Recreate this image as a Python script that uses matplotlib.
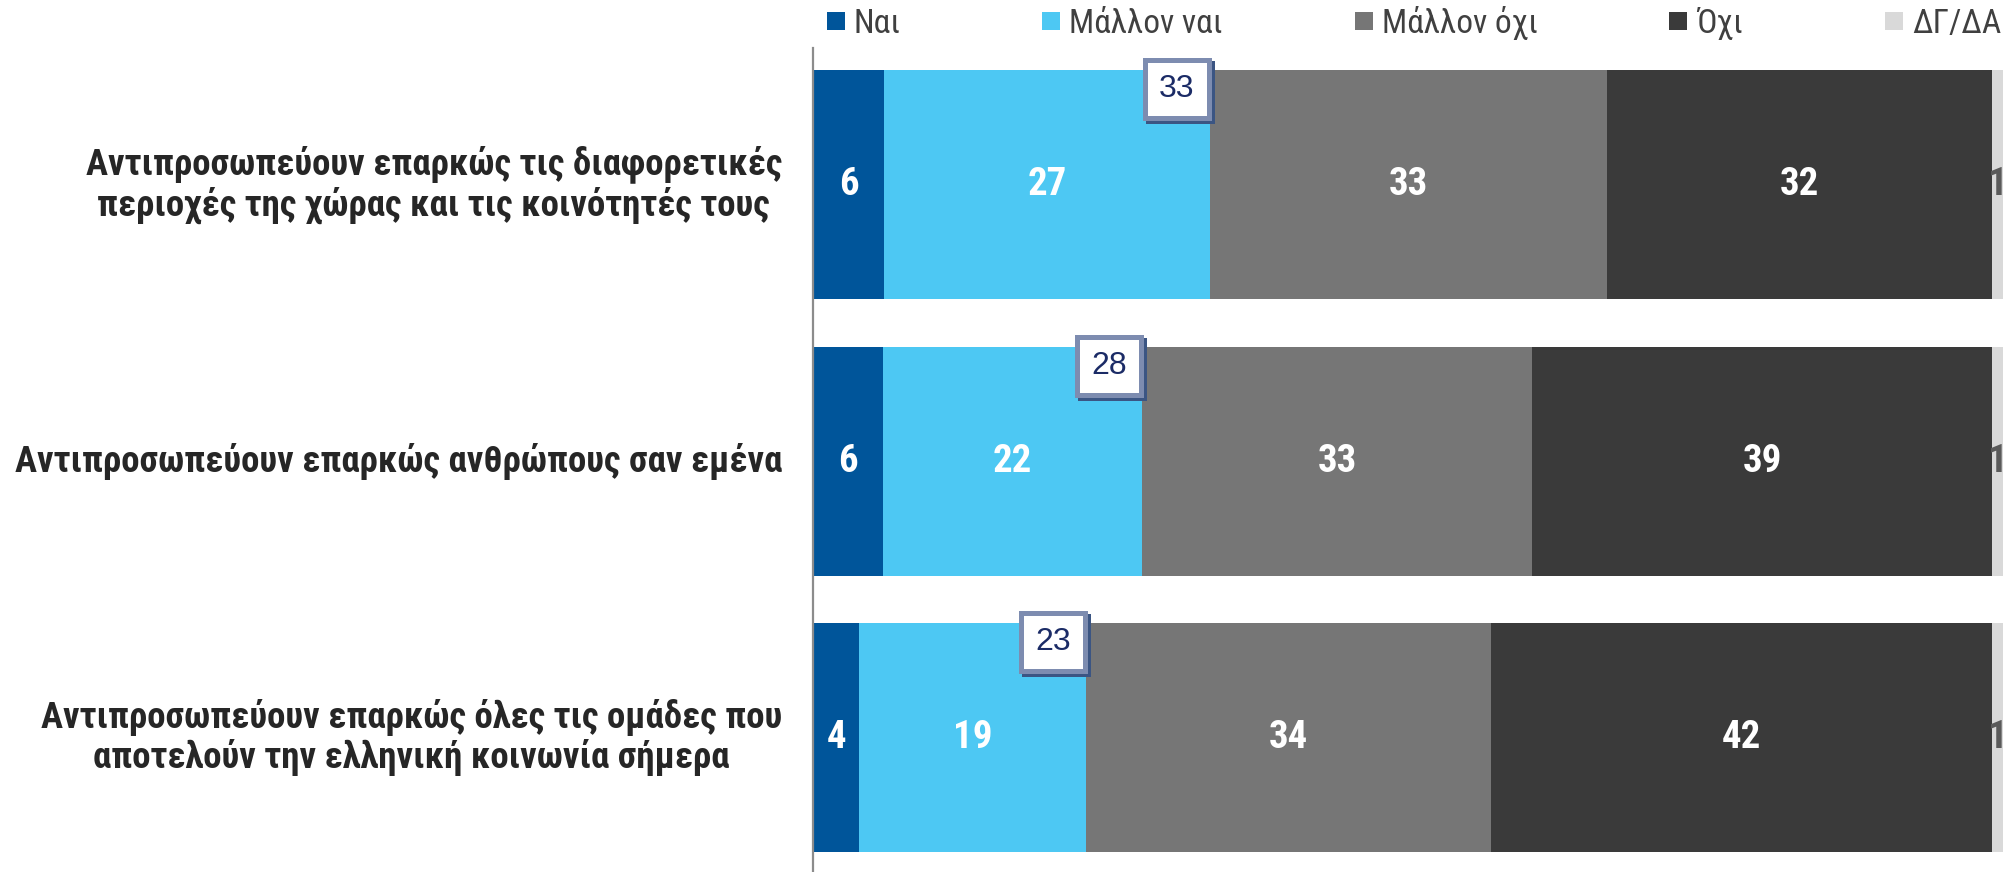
import os
import matplotlib
matplotlib.use('Agg')
import matplotlib.pyplot as plt
from matplotlib.patches import Rectangle
from matplotlib import font_manager as fm
from matplotlib.font_manager import FontProperties

# ---------------- data ----------------
categories = [
    "Αντιπροσωπεύουν επαρκώς τις διαφορετικές\nπεριοχές της χώρας και τις κοινότητές τους",
    "Αντιπροσωπεύουν επαρκώς ανθρώπους σαν εμένα",
    "Αντιπροσωπεύουν επαρκώς όλες τις ομάδες που\nαποτελούν την ελληνική κοινωνία σήμερα",
]
series_names = ["Ναι", "Μάλλον ναι", "Μάλλον όχι", "Όχι", "ΔΓ/ΔΑ"]
nai = [6.0, 5.9, 3.9]
mallon_nai = [27.3, 21.7, 19.0]
mallon_oxi = [33.4, 32.8, 34.0]
oxi = [32.3, 38.6, 42.1]
dg_da = [1.0, 1.0, 1.0]

colors = ["#00559a", "#4dc8f3", "#767676", "#3a3a3a", "#d9d9d9"]
label_colors = ["white", "white", "white", "white", "#5a5a5a"]


# ---------------- fonts ----------------
def _w(f):
    w = f.weight
    if isinstance(w, str):
        return {"bold": 700, "semibold": 600, "demibold": 600, "heavy": 800,
                "black": 900, "extra bold": 800, "medium": 500}.get(w.lower(), 400)
    return int(w)


def find_narrow(bold):
    prefs = ["liberationsansnarrow", "robotocondensed", "opensanscondensed",
             "notosansdisplay", "dejavusanscondensed"]
    best = None
    for f in fm.fontManager.ttflist:
        base = os.path.basename(f.fname).lower().replace("-", "").replace("_", "").replace(" ", "")
        if f.style != "normal":
            continue
        if "italic" in base or "oblique" in base:
            continue
        for rank, p in enumerate(prefs):
            if base.startswith(p):
                wt = _w(f)
                ok = (wt >= 600) if bold else (wt < 600 and wt >= 400)
                if ok and (best is None or rank < best[0]):
                    best = (rank, f.fname)
    if best:
        return FontProperties(fname=best[1])
    return FontProperties(family="DejaVu Sans", weight="bold" if bold else "normal")


NB = find_narrow(True)
NR = find_narrow(False)
names = {f.name for f in fm.fontManager.ttflist}
REG = "Liberation Sans" if "Liberation Sans" in names else "DejaVu Sans"


def fp(base, size):
    p = base.copy()
    p.set_size(size)
    return p


W, H = 2003, 872
fig = plt.figure(figsize=(W / 100, H / 100), dpi=100)
fig.patch.set_facecolor("white")

ax_left, ax_right, ax_top, ax_bottom = 813, 2004, 48, 872
ax = fig.add_axes([ax_left / W, (H - ax_bottom) / H,
                   (ax_right - ax_left) / W, (ax_bottom - ax_top) / H])
ax.set_xlim(0, 100)
ax.set_ylim(2.486, -0.494)
ax.set_facecolor("none")
for s in ["top", "right", "bottom"]:
    ax.spines[s].set_visible(False)
ax.spines["left"].set_color("#8c8c8c")
ax.spines["left"].set_linewidth(1.6)
ax.spines["left"].set_zorder(5)
ax.set_xticks([])
ax.set_yticks([])

bar_h = 0.828
series = [nai, mallon_nai, mallon_oxi, oxi, dg_da]
ypos = list(range(len(categories)))
left = [0.0] * len(categories)
for k, vals in enumerate(series):
    ax.barh(ypos, vals, left=left, height=bar_h, color=colors[k],
            edgecolor="none", clip_on=False, zorder=2)
    for i, v in enumerate(vals):
        ax.text(left[i] + v / 2, i, f"{round(v)}", ha="center", va="center",
                color=label_colors[k], fontproperties=fp(NB, 28),
                zorder=4, clip_on=False)
    left = [l + v for l, v in zip(left, vals)]

# boxes with Ναι + Μάλλον ναι total
px_x = 100 / (ax_right - ax_left)
px_y = 2.98 / (ax_bottom - ax_top)
bw, bh = 64 * px_x, 58 * px_y
for i in ypos:
    tot = nai[i] + mallon_nai[i]
    cx = tot + 2 * px_x - 35 * px_x
    top = i - bar_h / 2 - 13 * px_y
    cy = top + 32 * px_y
    ax.add_patch(Rectangle((cx - bw / 2 + 3 * px_x, cy - bh / 2 + 3 * px_y), bw, bh,
                           facecolor="#3b5583", edgecolor="#3b5583", linewidth=3.6,
                           zorder=6, clip_on=False))
    ax.add_patch(Rectangle((cx - bw / 2, cy - bh / 2), bw, bh, facecolor="white",
                           edgecolor="#7d8cb0", linewidth=3.6, zorder=7, clip_on=False))
    ax.text(cx, cy, f"{round(tot)}", ha="center", va="center", fontsize=23,
            color="#1b2b66", family=REG, zorder=8, clip_on=False)

# category labels, sized so the single-line label spans ~767 px
renderer = fig.canvas.get_renderer()
probe = fig.text(0, 0, categories[1], fontproperties=fp(NB, 27))
wpx = probe.get_window_extent(renderer).width
probe.remove()
cat_size = min(27.0, 27.0 * 767.0 / wpx)
for i, cat in enumerate(categories):
    ax.annotate(cat, xy=(0, i), xytext=(-31, 0), textcoords="offset pixels",
                ha="right", va="center", multialignment="center",
                fontproperties=fp(NB, cat_size), color="#262626",
                linespacing=1.1, annotation_clip=False)

# legend (manual)
legend_x = [827, 1042, 1355, 1669, 1885]
for k, name in enumerate(series_names):
    x0 = legend_x[k]
    fig.patches.append(Rectangle((x0 / W, (H - 30) / H), 18 / W, 18 / H,
                                 transform=fig.transFigure, facecolor=colors[k],
                                 edgecolor="none"))
    fig.text((x0 + 27) / W, (H - 33) / H, name, ha="left", va="baseline",
             fontproperties=fp(NR, 24), color="#404040")

fig.savefig("out.png", dpi=100, facecolor="white")
